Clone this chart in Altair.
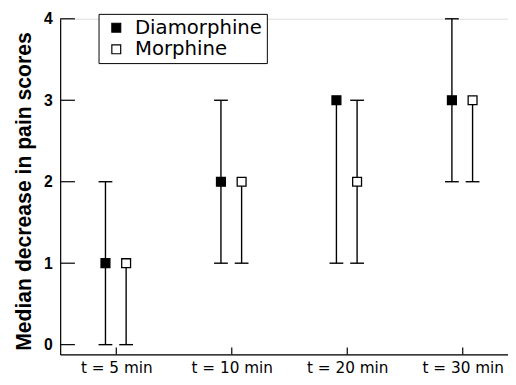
import altair as alt
import pandas as pd

# ---- data ----
times = ["t = 5 min", "t = 10 min", "t = 20 min", "t = 30 min"]
drugs = ["Diamorphine", "Morphine"]

dia_median = [1, 2, 3, 3]
dia_low = [0, 1, 1, 2]
dia_high = [2, 3, 3, 4]

mor_median = [1, 2, 2, 3]
mor_low = [0, 1, 1, 2]
mor_high = [1, 2, 3, 3]

y_ticks = [0, 1, 2, 3, 4]

# ---- tables built from the arrays ----
rows = []
for drug, med, lo, hi in [
    ("Diamorphine", dia_median, dia_low, dia_high),
    ("Morphine", mor_median, mor_low, mor_high),
]:
    for i, t in enumerate(times):
        rows.append(dict(idx=i + 1, time=t, drug=drug, median=med[i], low=lo[i], high=hi[i]))
df = pd.DataFrame(rows)

caps = []
for r in rows:
    if r["low"] != r["median"]:
        caps.append(dict(idx=r["idx"], drug=r["drug"], cap=r["low"]))
    if r["high"] != r["median"]:
        caps.append(dict(idx=r["idx"], drug=r["drug"], cap=r["high"]))
caps_df = pd.DataFrame(caps)

label_expr = "[" + ",".join("'" + t + "'" for t in times) + "][datum.value - 1]"

x_scale = alt.Scale(domain=[0.514, 4.392], nice=False, zero=False)
y_scale = alt.Scale(domain=[-0.12, 4], nice=False, zero=False)

x_axis = alt.Axis(
    values=[1, 2, 3, 4], labelExpr=label_expr, title=None, grid=False,
    ticks=False, tickSize=0, labelPadding=6, labelFont="DejaVu Sans",
    labelFontSize=15.5, labelColor="black", domainColor="black", domainWidth=1.2,
    labelFlush=False, labelOverlap=False,
)
y_axis = alt.Axis(
    values=y_ticks, format="d", title="Median decrease in pain scores", grid=False,
    ticks=False, tickSize=0, labelPadding=8, labelFont="Liberation Sans",
    labelFontSize=16, labelFontWeight="bold", labelColor="black",
    domainColor="black", domainWidth=1.2, labelFlush=False,
    titleFont="Liberation Sans", titleFontSize=21.5, titleFontWeight="bold",
    titleColor="black", titleAngle=270, titleX=-30, titleY=175,
    titleAlign="center", titleBaseline="alphabetic",
)

fill_scale = alt.Scale(domain=drugs, range=["black", "white"])

base = alt.Chart(df)

# axes carrier (invisible)
axes = base.mark_point(opacity=0).encode(
    x=alt.X("idx:Q", scale=x_scale, axis=x_axis),
    y=alt.Y("median:Q", scale=y_scale, axis=y_axis),
)

offsets = {"Diamorphine": -11, "Morphine": 10}

layers = [axes]
for drug in drugs:
    o = offsets[drug]
    sub = base.transform_filter(alt.datum.drug == drug)
    whisk = sub.mark_rule(color="black", strokeWidth=1.4, xOffset=o).encode(
        x=alt.X("idx:Q", scale=x_scale), y=alt.Y("low:Q", scale=y_scale), y2="high:Q"
    )
    cap = alt.Chart(caps_df).transform_filter(alt.datum.drug == drug).mark_rule(
        color="black", strokeWidth=1.4, xOffset=o - 7, x2Offset=o + 7
    ).encode(
        x=alt.X("idx:Q", scale=x_scale), x2="idx:Q", y=alt.Y("cap:Q", scale=y_scale)
    )
    sq = sub.mark_square(size=81, stroke="black", strokeWidth=1.3, opacity=1,
                         fillOpacity=1, xOffset=o).encode(
        x=alt.X("idx:Q", scale=x_scale),
        y=alt.Y("median:Q", scale=y_scale),
        fill=alt.Fill("drug:N", scale=fill_scale, legend=alt.Legend(
            title=None, orient="none", legendX=39, legendY=-5,
            symbolType="square", symbolSize=81, symbolStrokeColor="black",
            symbolStrokeWidth=1.2, symbolOffset=4, labelFont="DejaVu Sans",
            labelFontSize=20, labelColor="black", labelOffset=9, rowPadding=2,
            padding=4, strokeColor="black", fillColor="white",
        )),
    )
    layers += [whisk, cap, sq]

# inward ticks
ytick_df = pd.DataFrame({"v": y_ticks})
yt = alt.Chart(ytick_df).mark_rule(color="black", strokeWidth=1.2).encode(
    y=alt.Y("v:Q", scale=y_scale), x=alt.value(0), x2=alt.value(15)
)
xtick_df = pd.DataFrame({"i": [1, 2, 3, 4]})
xt = alt.Chart(xtick_df).mark_rule(color="black", strokeWidth=1.2).encode(
    x=alt.X("i:Q", scale=x_scale), y=alt.value(341), y2=alt.value(334)
)
layers += [yt, xt]

chart = alt.layer(*layers).properties(
    width=455, height=341,
    autosize=alt.AutoSizeParams(type="none"),
    padding={"left": 53, "top": 8, "right": 0, "bottom": 23},
).configure_view(stroke=None).configure(background="white")

chart.save("out.html", embed_options={"renderer": "svg", "actions": False})
